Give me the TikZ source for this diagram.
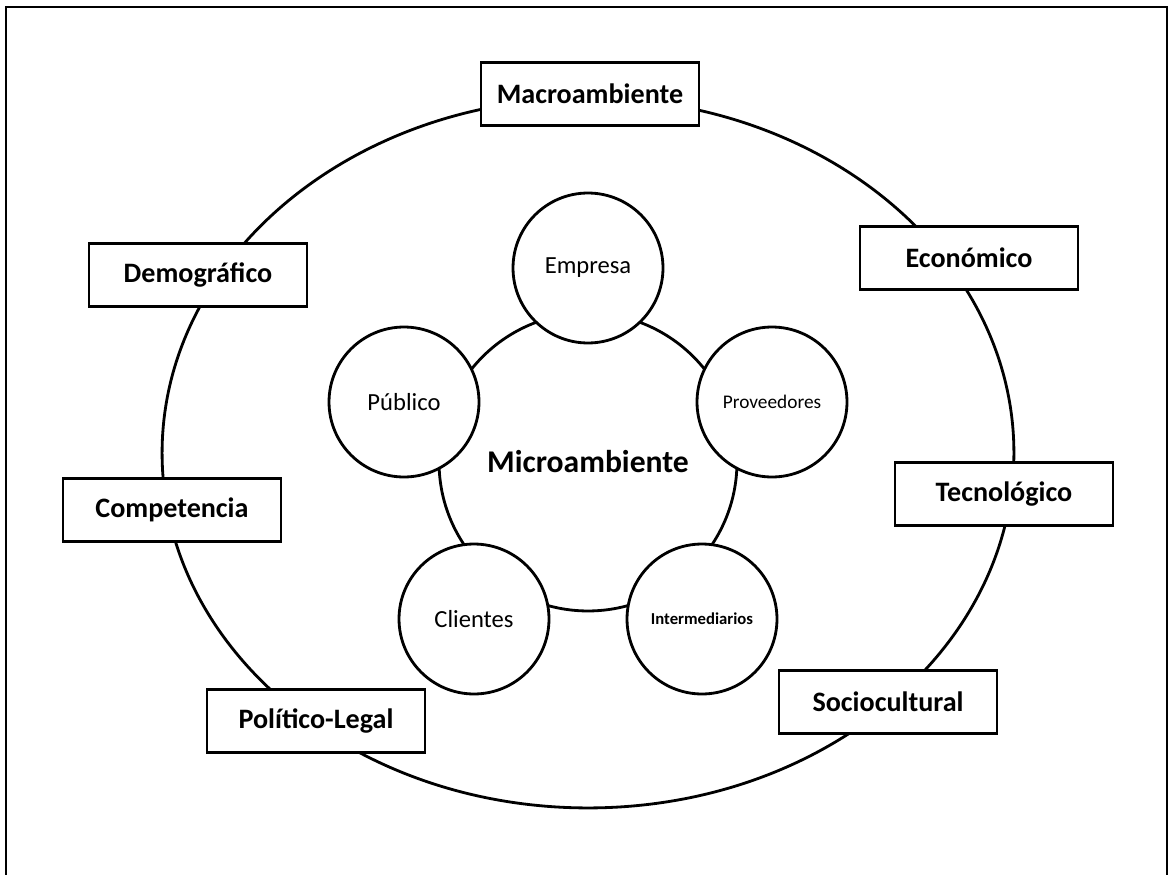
\documentclass[tikz,border=0pt]{standalone}
\usepackage{fontspec}
\setmainfont{Carlito}
\usetikzlibrary{shapes.geometric}

\begin{document}
\begin{tikzpicture}
  [x=0.02cm,y=-0.02cm]
      \tikzstyle{factor_box} = [draw=black, line width=1.6pt, fill=white, minimum width=4.36cm, minimum height=1.26cm, inner sep=0pt, font=\bfseries\fontsize{16}{18}\selectfont]
      \tikzstyle{actor_circle} = [circle, draw=black, line width=1.6pt, fill=white, minimum size=3cm, inner sep=0pt, font=\fontsize{14}{16}\selectfont]
  \useasboundingbox (0,0) rectangle (1170,875);
  \draw[line width=1.2pt] (6,7) rectangle (1167,900);
  % macroambiente ring and microambiente core
  \node[ellipse, draw=black, line width=1.6pt, minimum width=17.04cm, minimum height=14.2cm] (ring) at (588,453) {};
  \node[circle, draw=black, line width=1.6pt, minimum size=5.96cm, font=\bfseries\fontsize{18}{20}\selectfont] (micro) at (588,462) {Microambiente};
  \node[actor_circle] (empresa) at (588,268) {Empresa};
  \node[actor_circle, font=\fontsize{11}{13}\selectfont] (proveedores) at (772,402) {Proveedores};
  \node[actor_circle, font=\bfseries\fontsize{9.5}{11}\selectfont] (intermediarios) at (702,619) {Intermediarios};
  \node[actor_circle] (clientes) at (474,619) {Clientes};
  \node[actor_circle] (publico) at (404,402) {Público};
  % factores del macroambiente
  \node[factor_box] (macro) at (590,94) {Macroambiente};
  \node[factor_box] (demo) at (198,275) {Demográfico};
  \node[factor_box] (econ) at (969,258) {Económico};
  \node[factor_box] (comp) at (172,510) {Competencia};
  \node[factor_box] (tecno) at (1004,494) {Tecnológico};
  \node[factor_box] (poli) at (316,721) {Político-Legal};
  \node[factor_box] (socio) at (888,702) {Sociocultural};
\end{tikzpicture}
\end{document}
